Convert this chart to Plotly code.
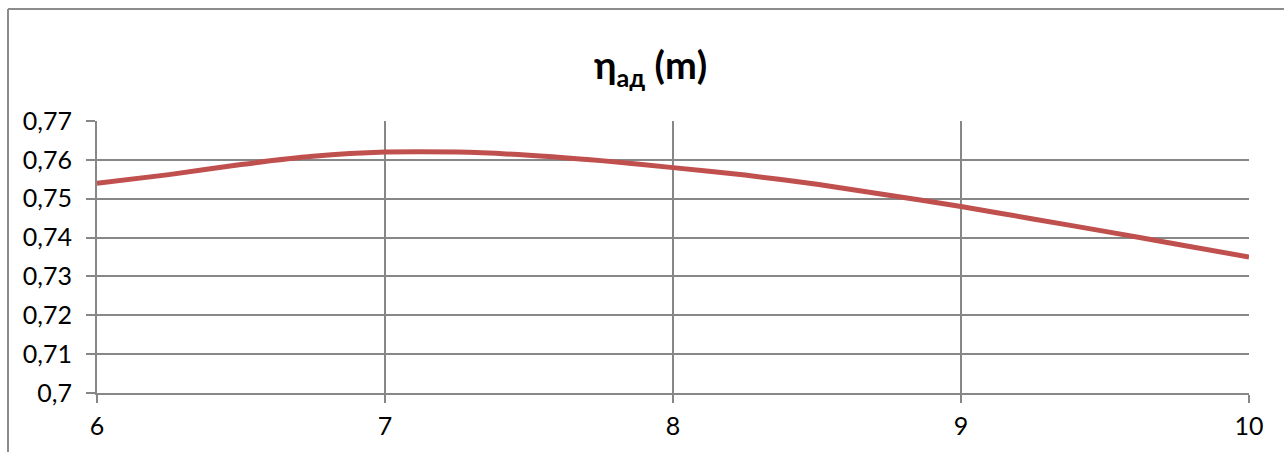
import plotly.graph_objects as go

# Blade-number dependence of adiabatic efficiency
m_values = [6, 6.25, 6.5, 6.75, 7, 7.25, 7.5, 7.75, 8, 8.25, 8.5, 8.75, 9, 9.25, 9.5, 9.75, 10]
eta_ad = [0.754, 0.7562, 0.7588, 0.7609, 0.762, 0.762, 0.7612, 0.7598, 0.758,
          0.7561, 0.7537, 0.7509, 0.748, 0.7448, 0.7416, 0.7383, 0.735]

y_ticks = [0.70, 0.71, 0.72, 0.73, 0.74, 0.75, 0.76, 0.77]
y_tick_text = ["0,7", "0,71", "0,72", "0,73", "0,74", "0,75", "0,76", "0,77"]
x_ticks = [6, 7, 8, 9, 10]

W, H = 1284, 452
ML, MR, MT, MB = 97, 35, 121, 59
GRID = "#878787"
FONT = "Lato, 'Open Sans', sans-serif"

fig = go.Figure()
fig.add_trace(go.Scatter(
    x=m_values, y=eta_ad, mode="lines",
    line=dict(color="#C0504D", width=5, shape="spline", smoothing=0.6),
    hoverinfo="skip", showlegend=False,
))

fig.update_layout(
    width=W, height=H,
    margin=dict(l=ML, r=MR, t=MT, b=MB, autoexpand=False),
    paper_bgcolor="white", plot_bgcolor="white",
    font=dict(family=FONT, color="#000000", size=25),
    showlegend=False,
)

fig.update_xaxes(
    range=[6, 10], tickvals=x_ticks, ticktext=[str(v) for v in x_ticks],
    showgrid=True, gridcolor=GRID, gridwidth=2,
    showline=True, linecolor=GRID, linewidth=2,
    ticks="outside", ticklen=8, tickwidth=2, tickcolor=GRID,
    ticklabelstandoff=2, zeroline=False, automargin=False,
    tickfont=dict(size=25, family=FONT),
)
fig.update_yaxes(
    range=[0.70, 0.77], tickvals=y_ticks, ticktext=y_tick_text,
    showgrid=True, gridcolor=GRID, gridwidth=2,
    showline=True, linecolor=GRID, linewidth=2,
    ticks="outside", ticklen=9, tickwidth=2, tickcolor=GRID,
    ticklabelstandoff=9, zeroline=False, automargin=False,
    tickfont=dict(size=25, family=FONT),
)

# Chart title with subscript
fig.add_annotation(
    text="<b>η<span style='font-size:36px'><sub>ад</sub></span> (m)</b>",
    xref="paper", yref="paper",
    x=(650 - ML) / (W - ML - MR), y=(H - MB - 66) / (H - MT - MB),
    xanchor="center", yanchor="middle", showarrow=False,
    font=dict(size=38, family=FONT, color="#000000"),
)

# Outer chart frame (left and top edges visible)
pw, ph = W - ML - MR, H - MT - MB
fx0 = (8 - ML) / pw
fy_top = (H - MB - 9) / ph
fig.add_shape(type="line", xref="paper", yref="paper",
              x0=fx0, x1=(W + 5 - ML) / pw, y0=fy_top, y1=fy_top,
              line=dict(color="#8c8c8c", width=2))
fig.add_shape(type="line", xref="paper", yref="paper",
              x0=fx0, x1=fx0, y0=fy_top, y1=(-MB - 5) / ph,
              line=dict(color="#8c8c8c", width=2))

fig.write_html("out.html")
